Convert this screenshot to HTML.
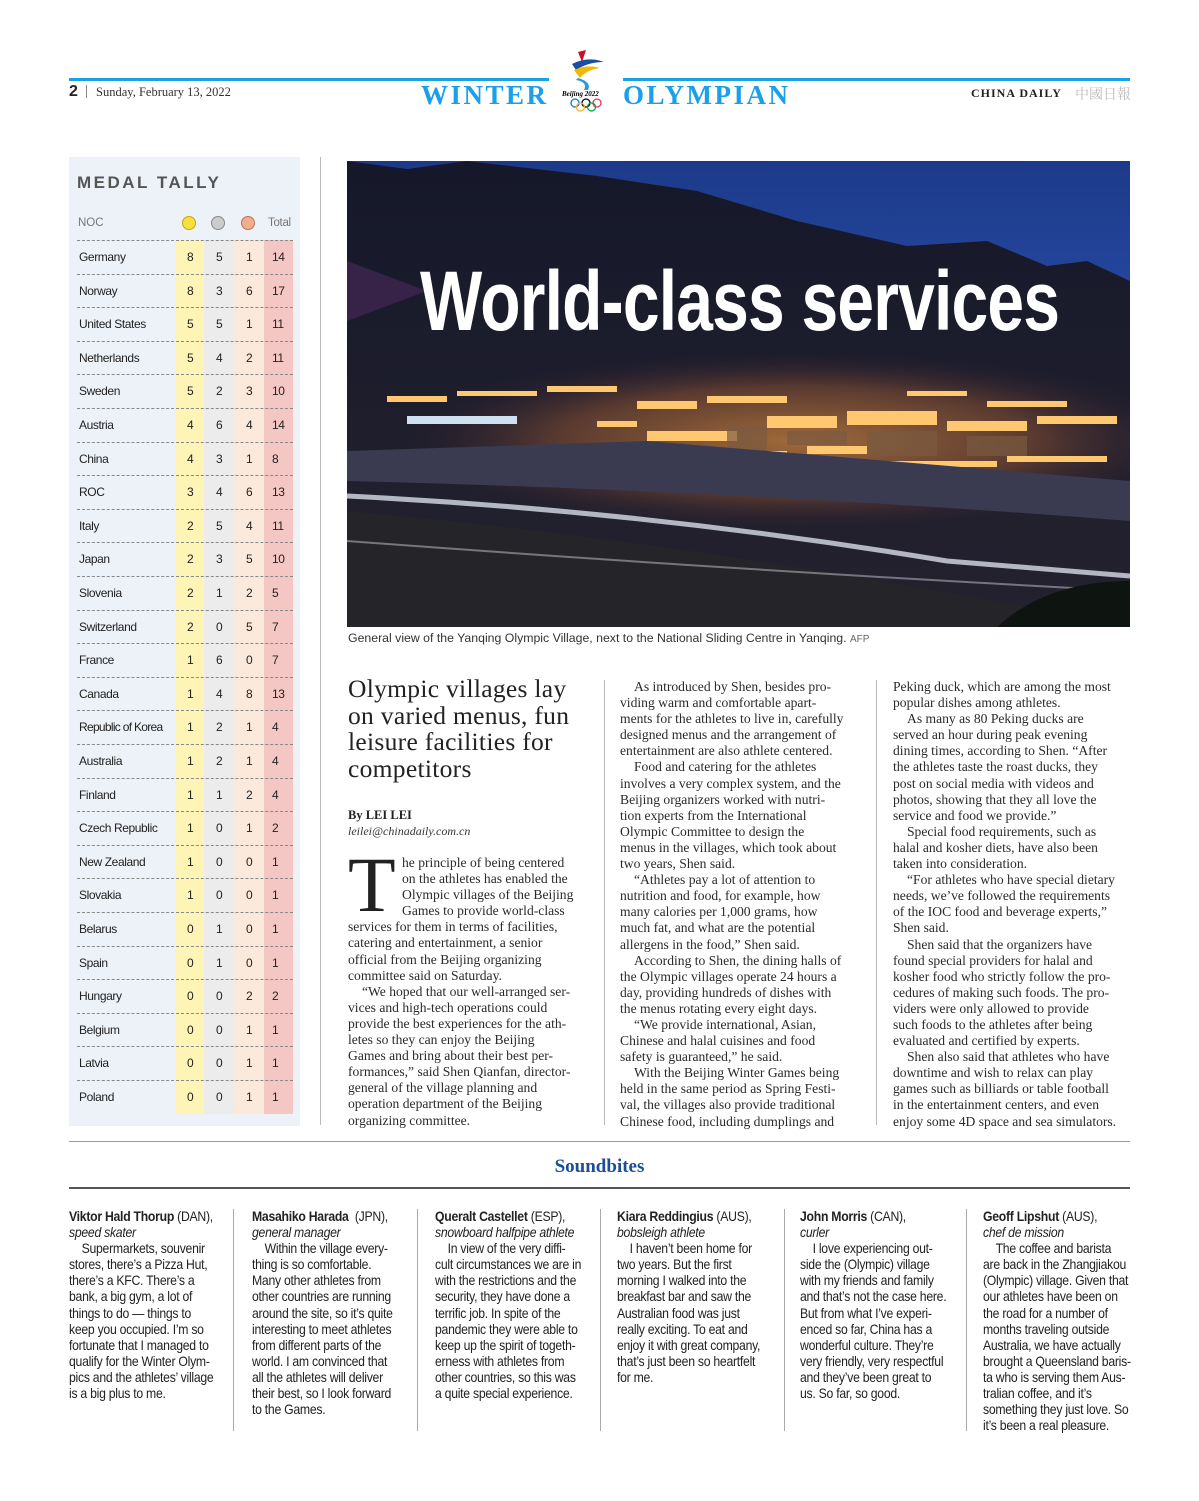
<!DOCTYPE html>
<html><head><meta charset="utf-8">
<style>
*{margin:0;padding:0;box-sizing:border-box}
body{width:1199px;height:1501px;background:#fff;position:relative;overflow:hidden;font-family:"Liberation Serif",serif;color:#222}
.a{position:absolute}
.ln{white-space:nowrap;height:16.1px;line-height:16.1px}
.body{font-size:13.6px;color:#2a2a2a}
.sb{font-family:"Liberation Sans",sans-serif;font-size:13.6px;color:#222;letter-spacing:-0.3px;transform-origin:0 0;transform:scaleX(0.9)}
.sb .ln{height:16.1px;line-height:16.1px}
.ind{padding-left:14px}
.row{position:absolute;left:69px;width:224px;height:33.6px;font-family:"Liberation Sans",sans-serif;font-size:12px;letter-spacing:-0.4px;color:#222}
.row span{position:absolute;top:10px}
.dash{position:absolute;left:77px;width:216px;border-top:1px dashed #888;height:0}
</style></head><body>

<div class="a" style="left:69px;top:78px;width:480px;height:3px;background:#1ea0e6"></div>
<div class="a" style="left:623px;top:78px;width:507px;height:3px;background:#1ea0e6"></div>
<div class="a" style="left:69px;top:83px;font-size:16px;font-weight:bold;font-family:'Liberation Sans',sans-serif">2</div>
<div class="a" style="left:86px;top:85px;width:1px;height:13px;background:#888"></div>
<div class="a" style="left:96px;top:85px;font-size:12.5px;color:#333">Sunday, February 13, 2022</div>
<div class="a" style="left:421px;top:80px;font-size:27px;font-weight:bold;color:#1aa0e8;font-family:'Liberation Serif',serif;letter-spacing:2.5px">WINTER</div>
<div class="a" style="left:623px;top:80px;font-size:27px;font-weight:bold;color:#1aa0e8;font-family:'Liberation Serif',serif;letter-spacing:2.5px">OLYMPIAN</div>
<svg class="a" style="left:558px;top:48px" width="60" height="68" viewBox="0 0 60 68">
<path d="M20 4 L28 2 L24 14 Z" fill="#c8102e"/><path d="M14 16 Q30 8 46 14 Q30 14 18 22 Z" fill="#1a4fa0"/>
<path d="M16 22 Q30 16 42 20 Q28 22 22 30 Z" fill="#f2b705"/><path d="M20 30 Q34 34 30 42 L26 42 Q30 34 18 32Z" fill="#2a9ad8"/>
<text x="4" y="48" font-size="7" font-style="italic" font-weight="bold" font-family="Liberation Serif">Beijing 2022</text>
<circle cx="17" cy="55" r="4" fill="none" stroke="#0081c8" stroke-width="1.3"/><circle cx="28" cy="55" r="4" fill="none" stroke="#000" stroke-width="1.3"/><circle cx="39" cy="55" r="4" fill="none" stroke="#ee334e" stroke-width="1.3"/><circle cx="22.5" cy="59" r="4" fill="none" stroke="#fcb131" stroke-width="1.3"/><circle cx="33.5" cy="59" r="4" fill="none" stroke="#00a651" stroke-width="1.3"/>
</svg>
<div class="a" style="left:971px;top:86px;font-size:12px;font-weight:bold;letter-spacing:1px;font-family:'Liberation Serif',serif">CHINA DAILY</div>
<div class="a" style="left:1075px;top:84px;font-size:14px;color:#bbb;font-family:'Noto Serif CJK SC',serif">中國日報</div>

<div class="a" style="left:69px;top:157px;width:231px;height:969px;background:#edf1f8"></div>
<div class="a" style="left:175px;top:240px;width:29px;height:874px;background:#fdf4b6"></div>
<div class="a" style="left:204px;top:240px;width:30px;height:874px;background:#ececec"></div>
<div class="a" style="left:234px;top:240px;width:30px;height:874px;background:#fbe9dc"></div>
<div class="a" style="left:264px;top:240px;width:29px;height:874px;background:#f5c7c4"></div>
<div class="a" style="left:77px;top:173px;font-size:17px;font-weight:bold;color:#555;letter-spacing:2.5px;font-family:'Liberation Sans',sans-serif">MEDAL TALLY</div>
<div class="a" style="left:78px;top:217px;font-size:11.5px;color:#777;font-family:'Liberation Sans',sans-serif">NOC</div>
<div class="a" style="left:182px;top:216px;width:14px;height:14px;border-radius:50%;background:#f5e040;border:1.5px solid #c8a800"></div>
<div class="a" style="left:211px;top:216px;width:14px;height:14px;border-radius:50%;background:#ccc;border:1.5px solid #888"></div>
<div class="a" style="left:241px;top:216px;width:14px;height:14px;border-radius:50%;background:#f0b090;border:1.5px solid #c07050"></div>
<div class="a" style="left:268px;top:217px;font-size:11.5px;color:#777;font-family:'Liberation Sans',sans-serif;letter-spacing:-0.3px">Total</div>
<div class="row" style="top:240px"><span style="left:10px">Germany</span><span style="left:118px">8</span><span style="left:147px">5</span><span style="left:177px">1</span><span style="left:203px">14</span></div>
<div class="row" style="top:273.6px"><span style="left:10px">Norway</span><span style="left:118px">8</span><span style="left:147px">3</span><span style="left:177px">6</span><span style="left:203px">17</span></div>
<div class="row" style="top:307.2px"><span style="left:10px">United States</span><span style="left:118px">5</span><span style="left:147px">5</span><span style="left:177px">1</span><span style="left:203px">11</span></div>
<div class="row" style="top:340.8px"><span style="left:10px">Netherlands</span><span style="left:118px">5</span><span style="left:147px">4</span><span style="left:177px">2</span><span style="left:203px">11</span></div>
<div class="row" style="top:374.4px"><span style="left:10px">Sweden</span><span style="left:118px">5</span><span style="left:147px">2</span><span style="left:177px">3</span><span style="left:203px">10</span></div>
<div class="row" style="top:408px"><span style="left:10px">Austria</span><span style="left:118px">4</span><span style="left:147px">6</span><span style="left:177px">4</span><span style="left:203px">14</span></div>
<div class="row" style="top:441.6px"><span style="left:10px">China</span><span style="left:118px">4</span><span style="left:147px">3</span><span style="left:177px">1</span><span style="left:203px">8</span></div>
<div class="row" style="top:475.2px"><span style="left:10px">ROC</span><span style="left:118px">3</span><span style="left:147px">4</span><span style="left:177px">6</span><span style="left:203px">13</span></div>
<div class="row" style="top:508.8px"><span style="left:10px">Italy</span><span style="left:118px">2</span><span style="left:147px">5</span><span style="left:177px">4</span><span style="left:203px">11</span></div>
<div class="row" style="top:542.4px"><span style="left:10px">Japan</span><span style="left:118px">2</span><span style="left:147px">3</span><span style="left:177px">5</span><span style="left:203px">10</span></div>
<div class="row" style="top:576px"><span style="left:10px">Slovenia</span><span style="left:118px">2</span><span style="left:147px">1</span><span style="left:177px">2</span><span style="left:203px">5</span></div>
<div class="row" style="top:609.6px"><span style="left:10px">Switzerland</span><span style="left:118px">2</span><span style="left:147px">0</span><span style="left:177px">5</span><span style="left:203px">7</span></div>
<div class="row" style="top:643.2px"><span style="left:10px">France</span><span style="left:118px">1</span><span style="left:147px">6</span><span style="left:177px">0</span><span style="left:203px">7</span></div>
<div class="row" style="top:676.8px"><span style="left:10px">Canada</span><span style="left:118px">1</span><span style="left:147px">4</span><span style="left:177px">8</span><span style="left:203px">13</span></div>
<div class="row" style="top:710.4px"><span style="left:10px;letter-spacing:-0.7px">Republic of Korea</span><span style="left:118px">1</span><span style="left:147px">2</span><span style="left:177px">1</span><span style="left:203px">4</span></div>
<div class="row" style="top:744px"><span style="left:10px">Australia</span><span style="left:118px">1</span><span style="left:147px">2</span><span style="left:177px">1</span><span style="left:203px">4</span></div>
<div class="row" style="top:777.6px"><span style="left:10px">Finland</span><span style="left:118px">1</span><span style="left:147px">1</span><span style="left:177px">2</span><span style="left:203px">4</span></div>
<div class="row" style="top:811.2px"><span style="left:10px">Czech Republic</span><span style="left:118px">1</span><span style="left:147px">0</span><span style="left:177px">1</span><span style="left:203px">2</span></div>
<div class="row" style="top:844.8px"><span style="left:10px">New Zealand</span><span style="left:118px">1</span><span style="left:147px">0</span><span style="left:177px">0</span><span style="left:203px">1</span></div>
<div class="row" style="top:878.4px"><span style="left:10px">Slovakia</span><span style="left:118px">1</span><span style="left:147px">0</span><span style="left:177px">0</span><span style="left:203px">1</span></div>
<div class="row" style="top:912px"><span style="left:10px">Belarus</span><span style="left:118px">0</span><span style="left:147px">1</span><span style="left:177px">0</span><span style="left:203px">1</span></div>
<div class="row" style="top:945.6px"><span style="left:10px">Spain</span><span style="left:118px">0</span><span style="left:147px">1</span><span style="left:177px">0</span><span style="left:203px">1</span></div>
<div class="row" style="top:979.2px"><span style="left:10px">Hungary</span><span style="left:118px">0</span><span style="left:147px">0</span><span style="left:177px">2</span><span style="left:203px">2</span></div>
<div class="row" style="top:1012.8px"><span style="left:10px">Belgium</span><span style="left:118px">0</span><span style="left:147px">0</span><span style="left:177px">1</span><span style="left:203px">1</span></div>
<div class="row" style="top:1046.4px"><span style="left:10px">Latvia</span><span style="left:118px">0</span><span style="left:147px">0</span><span style="left:177px">1</span><span style="left:203px">1</span></div>
<div class="row" style="top:1080px"><span style="left:10px">Poland</span><span style="left:118px">0</span><span style="left:147px">0</span><span style="left:177px">1</span><span style="left:203px">1</span></div>
<div class="dash" style="top:240px"></div><div class="dash" style="top:273.6px"></div><div class="dash" style="top:307.2px"></div><div class="dash" style="top:340.8px"></div><div class="dash" style="top:374.4px"></div><div class="dash" style="top:408px"></div><div class="dash" style="top:441.6px"></div><div class="dash" style="top:475.2px"></div><div class="dash" style="top:508.8px"></div><div class="dash" style="top:542.4px"></div><div class="dash" style="top:576px"></div><div class="dash" style="top:609.6px"></div><div class="dash" style="top:643.2px"></div><div class="dash" style="top:676.8px"></div><div class="dash" style="top:710.4px"></div><div class="dash" style="top:744px"></div><div class="dash" style="top:777.6px"></div><div class="dash" style="top:811.2px"></div><div class="dash" style="top:844.8px"></div><div class="dash" style="top:878.4px"></div><div class="dash" style="top:912px"></div><div class="dash" style="top:945.6px"></div><div class="dash" style="top:979.2px"></div><div class="dash" style="top:1012.8px"></div><div class="dash" style="top:1046.4px"></div><div class="dash" style="top:1080px"></div>

<div class="a" style="left:320px;top:157px;width:1px;height:968px;background:#bbb"></div>

<svg class="a" style="left:347px;top:161px" width="783" height="466" viewBox="0 0 783 466">
<defs>
<linearGradient id="sky" x1="0" y1="0" x2="0" y2="1"><stop offset="0" stop-color="#1d3a8a"/><stop offset="1" stop-color="#3466cc"/></linearGradient>
<linearGradient id="mt" x1="0" y1="0" x2="0" y2="1"><stop offset="0" stop-color="#15182a"/><stop offset="1" stop-color="#25222e"/></linearGradient>
<radialGradient id="glow" cx="0.5" cy="0.5" r="0.5"><stop offset="0" stop-color="#a06a3a"/><stop offset="0.6" stop-color="#5a3a30"/><stop offset="1" stop-color="#2a2030" stop-opacity="0"/></radialGradient>
</defs>
<rect width="783" height="466" fill="url(#sky)"/>
<path d="M0 0 L60 8 L120 0 L250 15 L350 30 L450 60 L560 85 L640 80 L700 105 L740 100 L783 120 L783 466 L0 466 Z" fill="url(#mt)"/>
<path d="M0 100 L80 130 L0 160Z" fill="#4a2a5a" opacity="0.6"/>
<ellipse cx="450" cy="280" rx="400" ry="90" fill="url(#glow)"/>
<g fill="#ffc870">
<rect x="40" y="235" width="60" height="6"/><rect x="110" y="230" width="80" height="5"/><rect x="200" y="225" width="70" height="6"/><rect x="60" y="255" width="110" height="8" fill="#cfe0f0"/>
<rect x="290" y="240" width="60" height="8"/><rect x="360" y="235" width="80" height="7"/><rect x="300" y="270" width="90" height="10"/>
<rect x="420" y="255" width="70" height="12"/><rect x="500" y="250" width="90" height="14"/><rect x="600" y="260" width="80" height="10"/><rect x="690" y="255" width="80" height="8"/>
<rect x="320" y="290" width="120" height="6"/><rect x="460" y="285" width="60" height="8"/><rect x="540" y="300" width="110" height="6"/><rect x="660" y="295" width="100" height="6"/>
<rect x="560" y="230" width="60" height="5"/><rect x="640" y="240" width="80" height="6"/><rect x="250" y="260" width="40" height="6"/>
</g>
<g fill="#7a5a40" opacity="0.7"><rect x="380" y="265" width="40" height="30"/><rect x="440" y="270" width="60" height="14"/><rect x="520" y="270" width="70" height="25"/><rect x="620" y="275" width="60" height="20"/></g>
<path d="M0 290 L300 280 L783 320 L783 360 Q400 330 0 320Z" fill="#3a3a50"/>
<path d="M0 335 Q300 350 600 400 L783 415" stroke="#d8dce8" stroke-width="5" fill="none" opacity="0.8"/>
<path d="M0 350 Q350 380 783 466 L0 466Z" fill="#242429"/>
<path d="M0 380 Q400 410 783 430" stroke="#c8c8d0" stroke-width="2" fill="none" opacity="0.5"/>
<path d="M650 466 Q700 420 783 420 L783 466Z" fill="#0e1410"/>
</svg>
<div class="a" style="left:420px;top:256px;width:637px;height:90px;overflow:visible">
<div style="font-family:'Liberation Sans',sans-serif;font-weight:bold;font-size:84px;line-height:90px;color:#fff;white-space:nowrap;transform-origin:0 0;transform:scaleX(0.785);letter-spacing:-1px">World-class services</div></div>
<div class="a" style="left:348px;top:631px;font-size:12.3px;color:#333;font-family:'Liberation Sans',sans-serif;white-space:nowrap">General view of the Yanqing Olympic Village, next to the National Sliding Centre in Yanqing. <span style="font-size:10px;color:#666">AFP</span></div>

<div class="a" style="left:348px;top:676px;font-size:25.5px;line-height:26.5px;color:#222;font-family:'Liberation Serif',serif;white-space:nowrap;letter-spacing:0.3px">Olympic villages lay<br>on varied menus, fun<br>leisure facilities for<br>competitors</div>
<div class="a" style="left:348px;top:808px;font-size:12.5px;font-weight:bold">By LEI LEI</div>
<div class="a" style="left:348px;top:824px;font-size:12px;font-style:italic;color:#333">leilei@chinadaily.com.cn</div>
<div class="a" style="left:348px;top:846px;font-size:78px;line-height:78px;color:#222">T</div>

<div class="a body" style="left:348px;top:855px">
<div class="ln" style="padding-left:54px">he principle of being centered</div>
<div class="ln" style="padding-left:54px">on the athletes has enabled the</div>
<div class="ln" style="padding-left:54px">Olympic villages of the Beijing</div>
<div class="ln" style="padding-left:54px">Games to provide world-class</div>
<div class="ln">services for them in terms of facilities,</div>
<div class="ln">catering and entertainment, a senior</div>
<div class="ln">official from the Beijing organizing</div>
<div class="ln">committee said on Saturday.</div>
<div class="ln ind">“We hoped that our well-arranged ser-</div>
<div class="ln">vices and high-tech operations could</div>
<div class="ln">provide the best experiences for the ath-</div>
<div class="ln">letes so they can enjoy the Beijing</div>
<div class="ln">Games and bring about their best per-</div>
<div class="ln">formances,” said Shen Qianfan, director-</div>
<div class="ln">general of the village planning and</div>
<div class="ln">operation department of the Beijing</div>
<div class="ln">organizing committee.</div>
</div>
<div class="a" style="left:604px;top:680px;width:1px;height:445px;background:#bbb"></div>
<div class="a body" style="left:620px;top:679px">
<div class="ln ind">As introduced by Shen, besides pro-</div>
<div class="ln">viding warm and comfortable apart-</div>
<div class="ln">ments for the athletes to live in, carefully</div>
<div class="ln">designed menus and the arrangement of</div>
<div class="ln">entertainment are also athlete centered.</div>
<div class="ln ind">Food and catering for the athletes</div>
<div class="ln">involves a very complex system, and the</div>
<div class="ln">Beijing organizers worked with nutri-</div>
<div class="ln">tion experts from the International</div>
<div class="ln">Olympic Committee to design the</div>
<div class="ln">menus in the villages, which took about</div>
<div class="ln">two years, Shen said.</div>
<div class="ln ind">“Athletes pay a lot of attention to</div>
<div class="ln">nutrition and food, for example, how</div>
<div class="ln">many calories per 1,000 grams, how</div>
<div class="ln">much fat, and what are the potential</div>
<div class="ln">allergens in the food,” Shen said.</div>
<div class="ln ind">According to Shen, the dining halls of</div>
<div class="ln">the Olympic villages operate 24 hours a</div>
<div class="ln">day, providing hundreds of dishes with</div>
<div class="ln">the menus rotating every eight days.</div>
<div class="ln ind">“We provide international, Asian,</div>
<div class="ln">Chinese and halal cuisines and food</div>
<div class="ln">safety is guaranteed,” he said.</div>
<div class="ln ind">With the Beijing Winter Games being</div>
<div class="ln">held in the same period as Spring Festi-</div>
<div class="ln">val, the villages also provide traditional</div>
<div class="ln">Chinese food, including dumplings and</div>
</div>
<div class="a" style="left:876px;top:680px;width:1px;height:445px;background:#bbb"></div>
<div class="a body" style="left:893px;top:679px">
<div class="ln">Peking duck, which are among the most</div>
<div class="ln">popular dishes among athletes.</div>
<div class="ln ind">As many as 80 Peking ducks are</div>
<div class="ln">served an hour during peak evening</div>
<div class="ln">dining times, according to Shen. “After</div>
<div class="ln">the athletes taste the roast ducks, they</div>
<div class="ln">post on social media with videos and</div>
<div class="ln">photos, showing that they all love the</div>
<div class="ln">service and food we provide.”</div>
<div class="ln ind">Special food requirements, such as</div>
<div class="ln">halal and kosher diets, have also been</div>
<div class="ln">taken into consideration.</div>
<div class="ln ind">“For athletes who have special dietary</div>
<div class="ln">needs, we’ve followed the requirements</div>
<div class="ln">of the IOC food and beverage experts,”</div>
<div class="ln">Shen said.</div>
<div class="ln ind">Shen said that the organizers have</div>
<div class="ln">found special providers for halal and</div>
<div class="ln">kosher food who strictly follow the pro-</div>
<div class="ln">cedures of making such foods. The pro-</div>
<div class="ln">viders were only allowed to provide</div>
<div class="ln">such foods to the athletes after being</div>
<div class="ln">evaluated and certified by experts.</div>
<div class="ln ind">Shen also said that athletes who have</div>
<div class="ln">downtime and wish to relax can play</div>
<div class="ln">games such as billiards or table football</div>
<div class="ln">in the entertainment centers, and even</div>
<div class="ln">enjoy some 4D space and sea simulators.</div>
</div>

<div class="a" style="left:69px;top:1141px;width:1061px;height:1px;background:#999"></div>
<div class="a" style="left:0;top:1156px;width:1199px;text-align:center;font-size:19px;font-weight:bold;color:#1a4f96">Soundbites</div>
<div class="a" style="left:69px;top:1187px;width:1061px;height:2px;background:#555"></div>
<div class="a" style="left:233px;top:1209px;width:1px;height:222px;background:#aaa"></div>
<div class="a" style="left:417px;top:1209px;width:1px;height:222px;background:#aaa"></div>
<div class="a" style="left:600px;top:1209px;width:1px;height:222px;background:#aaa"></div>
<div class="a" style="left:784px;top:1209px;width:1px;height:222px;background:#aaa"></div>
<div class="a" style="left:966px;top:1209px;width:1px;height:222px;background:#aaa"></div>

<div class="a sb" style="left:69px;top:1209px">
<div class="ln"><b>Viktor Hald Thorup</b> (DAN),</div>
<div class="ln"><i>speed skater</i></div>
<div class="ln ind">Supermarkets, souvenir</div>
<div class="ln">stores, there’s a Pizza Hut,</div>
<div class="ln">there’s a KFC. There’s a</div>
<div class="ln">bank, a big gym, a lot of</div>
<div class="ln">things to do — things to</div>
<div class="ln">keep you occupied. I’m so</div>
<div class="ln">fortunate that I managed to</div>
<div class="ln">qualify for the Winter Olym-</div>
<div class="ln">pics and the athletes’ village</div>
<div class="ln">is a big plus to me.</div>
</div>
<div class="a sb" style="left:252px;top:1209px">
<div class="ln"><b>Masahiko Harada</b>&nbsp; (JPN),</div>
<div class="ln"><i>general manager</i></div>
<div class="ln ind">Within the village every-</div>
<div class="ln">thing is so comfortable.</div>
<div class="ln">Many other athletes from</div>
<div class="ln">other countries are running</div>
<div class="ln">around the site, so it’s quite</div>
<div class="ln">interesting to meet athletes</div>
<div class="ln">from different parts of the</div>
<div class="ln">world. I am convinced that</div>
<div class="ln">all the athletes will deliver</div>
<div class="ln">their best, so I look forward</div>
<div class="ln">to the Games.</div>
</div>
<div class="a sb" style="left:435px;top:1209px">
<div class="ln"><b>Queralt Castellet</b> (ESP),</div>
<div class="ln"><i>snowboard halfpipe athlete</i></div>
<div class="ln ind">In view of the very diffi-</div>
<div class="ln">cult circumstances we are in</div>
<div class="ln">with the restrictions and the</div>
<div class="ln">security, they have done a</div>
<div class="ln">terrific job. In spite of the</div>
<div class="ln">pandemic they were able to</div>
<div class="ln">keep up the spirit of togeth-</div>
<div class="ln">erness with athletes from</div>
<div class="ln">other countries, so this was</div>
<div class="ln">a quite special experience.</div>
</div>
<div class="a sb" style="left:617px;top:1209px">
<div class="ln"><b>Kiara Reddingius</b> (AUS),</div>
<div class="ln"><i>bobsleigh athlete</i></div>
<div class="ln ind">I haven’t been home for</div>
<div class="ln">two years. But the first</div>
<div class="ln">morning I walked into the</div>
<div class="ln">breakfast bar and saw the</div>
<div class="ln">Australian food was just</div>
<div class="ln">really exciting. To eat and</div>
<div class="ln">enjoy it with great company,</div>
<div class="ln">that’s just been so heartfelt</div>
<div class="ln">for me.</div>
</div>
<div class="a sb" style="left:800px;top:1209px">
<div class="ln"><b>John Morris</b> (CAN),</div>
<div class="ln"><i>curler</i></div>
<div class="ln ind">I love experiencing out-</div>
<div class="ln">side the (Olympic) village</div>
<div class="ln">with my friends and family</div>
<div class="ln">and that’s not the case here.</div>
<div class="ln">But from what I’ve experi-</div>
<div class="ln">enced so far, China has a</div>
<div class="ln">wonderful culture. They’re</div>
<div class="ln">very friendly, very respectful</div>
<div class="ln">and they’ve been great to</div>
<div class="ln">us. So far, so good.</div>
</div>
<div class="a sb" style="left:983px;top:1209px">
<div class="ln"><b>Geoff Lipshut</b> (AUS),</div>
<div class="ln"><i>chef de mission</i></div>
<div class="ln ind">The coffee and barista</div>
<div class="ln">are back in the Zhangjiakou</div>
<div class="ln">(Olympic) village. Given that</div>
<div class="ln">our athletes have been on</div>
<div class="ln">the road for a number of</div>
<div class="ln">months traveling outside</div>
<div class="ln">Australia, we have actually</div>
<div class="ln">brought a Queensland baris-</div>
<div class="ln">ta who is serving them Aus-</div>
<div class="ln">tralian coffee, and it’s</div>
<div class="ln">something they just love. So</div>
<div class="ln">it’s been a real pleasure.</div>
</div>
</body></html>
